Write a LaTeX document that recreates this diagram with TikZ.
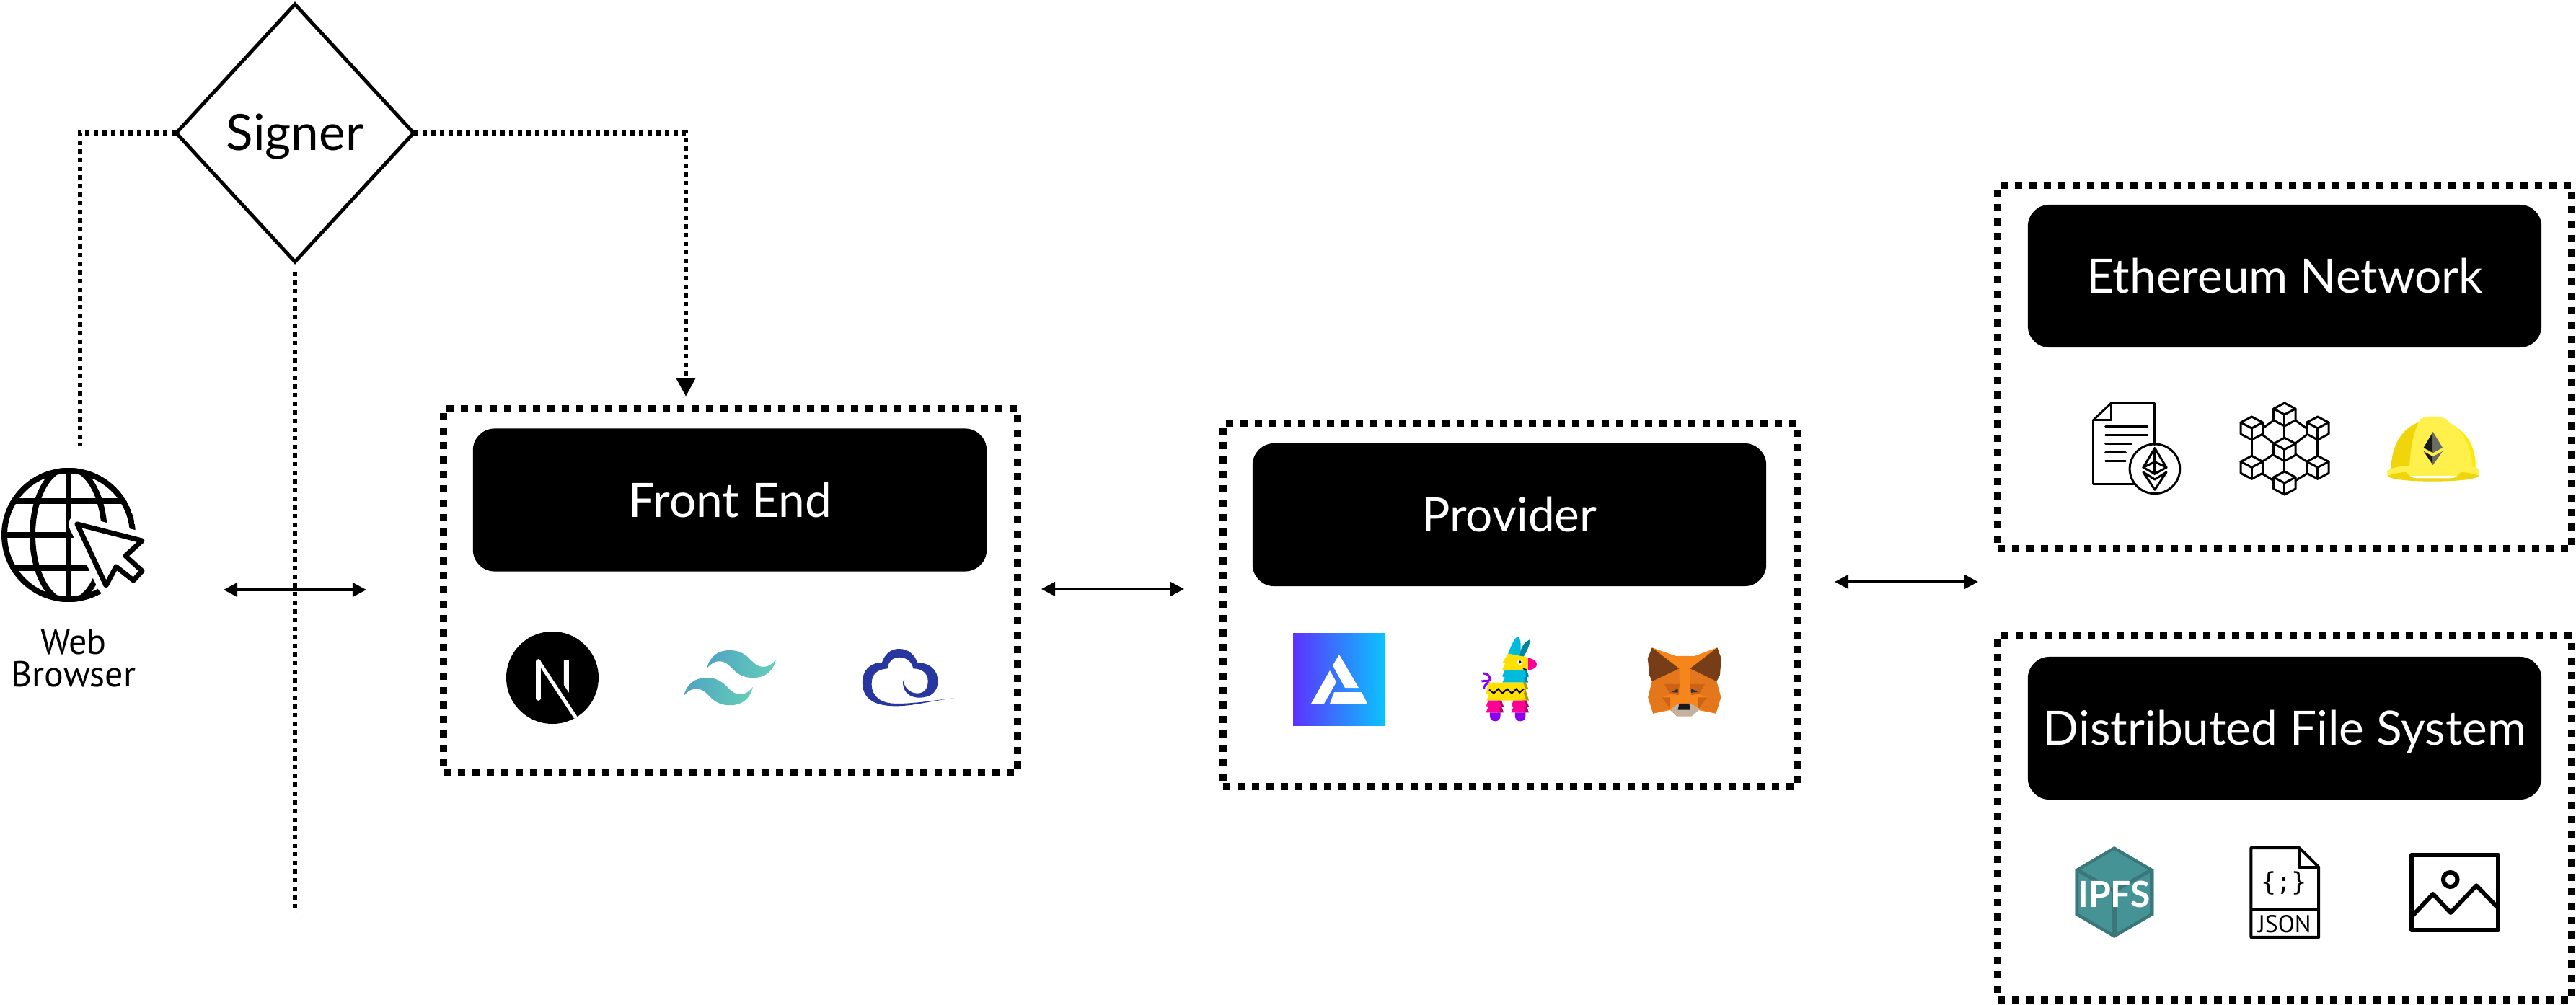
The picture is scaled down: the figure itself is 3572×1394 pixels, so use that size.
\documentclass[tikz,border=0pt]{standalone}
\usepackage{xcolor}
\usepackage{fontspec}
\setmainfont{Lato}
\newfontfamily\browserfont{PT Sans}
\newfontfamily\monofont{DejaVu Sans Mono}
\definecolor{windleft}{RGB}{79,163,194}
\definecolor{windright}{RGB}{101,207,185}
\definecolor{cloudblue}{RGB}{40,54,160}
\definecolor{alchemyleft}{RGB}{92,50,255}
\definecolor{alchemyright}{RGB}{10,196,255}
\definecolor{llamacyan}{RGB}{0,188,220}
\definecolor{llamateal}{RGB}{0,134,160}
\definecolor{llamayellow}{RGB}{255,224,0}
\definecolor{llamapink}{RGB}{255,0,150}
\definecolor{llamapurple}{RGB}{140,0,240}
\definecolor{llamaolive}{RGB}{180,150,0}
\definecolor{foxorange}{RGB}{246,133,27}
\definecolor{foxmid}{RGB}{228,118,27}
\definecolor{foxdark}{RGB}{205,97,22}
\definecolor{foxbrown}{RGB}{118,61,22}
\definecolor{foxbeige}{RGB}{196,178,160}
\definecolor{foxeye}{RGB}{35,52,71}
\definecolor{hatlight}{RGB}{255,240,75}
\definecolor{hatshade}{RGB}{240,213,12}
\definecolor{hatedge}{RGB}{255,233,0}
\definecolor{ethgrey}{RGB}{107,107,107}
\definecolor{ipfsteal}{RGB}{70,147,150}
\definecolor{ipfsdark}{RGB}{58,118,122}
\usepackage{tikz}
\usetikzlibrary{shapes.geometric,arrows.meta}
\tikzset{
  dottedbox/.style={draw, line width=0.1cm, dash pattern=on 0.1cm off 0.1cm, minimum width=7.95cm, minimum height=5.05cm, outer sep=0},
  labelbox/.style={fill=black, text=white, rounded corners=0.3cm, minimum width=7.12cm, minimum height=1.98cm, inner sep=0, outer sep=0, font=\fontsize{18.7}{22}\selectfont, text height=0.47cm, text depth=0cm},
  dotline/.style={line width=0.06cm, dash pattern=on 0.06cm off 0.06cm},
  bothway/.style={line width=0.04cm, {Triangle[length=0.19cm,width=0.19cm]}-{Triangle[length=0.19cm,width=0.19cm]}},
  iconline/.style={line width=0.03cm, line join=round, line cap=round}
}
\begin{document}
\begin{tikzpicture}[x=0.01cm, y=-0.01cm]
  \useasboundingbox (0,0) rectangle (3572,1394);

  \node[draw, shape=diamond, line width=0.05cm, minimum width=3.29cm, minimum height=3.57cm, inner sep=0, outer sep=0, font=\fontsize{19.7}{22}\selectfont, text height=0.47cm, text depth=0cm] (signer) at (409,184.5) {Signer};

  \foreach \name/\cx/\cy/\h in {frontbox/1013/819/5.04, providerbox/2094/839/5.04, ethbox/3168/509/5.04, filesbox/3168/1134.5/5.05}
    \node[dottedbox, minimum height=\h cm] (\name) at (\cx,\cy) {};

  \foreach \name/\cx/\cy/\txt in {frontlabel/1012/693.5/Front End, providerlabel/2093/714/Provider, ethlabel/3168/383/Ethereum Network, fileslabel/3168/1010/Distributed File System}
    \node[labelbox] (\name) at (\cx,\cy) {\txt};

  \node[font=\browserfont\fontsize{14.2}{12.8}\selectfont, align=center, inner sep=0] (browserlabel) at (102,913) {Web\\Browser};
  \coordinate (browsertop) at (111,618);
  \coordinate (frontin) at (951,565);
  \coordinate (signerend) at (409,1266);
  \coordinate (browserright) at (310,818);
  \coordinate (frontleft) at (508,818);
  \coordinate (frontright) at (1444,817);
  \coordinate (providerleft) at (1642,817);
  \coordinate (providerright) at (2544,807);
  \coordinate (storeleft) at (2743,807);

  \draw[dotline] (signer.west) -| (browsertop);
  \draw[dotline, -{Triangle[length=0.25cm,width=0.25cm]}, shorten >=0.15cm] (signer.east) -| (frontin);
  \draw[dotline, shorten <=0.14cm] (signer.south) -- (signerend);
  \draw[bothway] (browserright) -- (frontleft);
  \draw[bothway] (frontright) -- (providerleft);
  \draw[bothway] (providerright) -- (storeleft);

  % browser
  \begin{scope}
    \clip (95,742) circle (93);
    \draw[line width=0.08cm] (95,742) circle (89);
    \draw[line width=0.08cm] (95,742) ellipse (50 and 93);
    \draw[line width=0.08cm] (95,650) -- (95,835);
    \foreach \py in {695,742,788}
      \draw[line width=0.08cm] (0,\py) -- (190,\py);
  \end{scope}
  \foreach \col/\wd in {white/0.24, black/0.07}
    \draw[\col, line width=\wd cm, line join=round, fill=white] (107,727) -- (197,750) -- (174,771) -- (197,792) -- (185,805) -- (161,786) -- (147,812) -- cycle;

  % next
  \fill (766,940) circle (64);
  \begin{scope}[shift={(640,820)}, xscale=0.51, yscale=0.3333]
    \draw[white, line width=0.07cm, line cap=round] (208,293) -- (208,445);
    \draw[white, line width=0.05cm] (210,293) -- (310,525);
    \fill[white] (278,288) -- (292,288) -- (292,422) -- (278,390) -- cycle;
  \end{scope}

  % wind
  \begin{scope}[shift={(935.2,863.9)}, xscale=6.4, yscale=6.35]
    \foreach \sx/\sy in {0/0, -5/6}
      \shade[shift={(\sx,\sy)}, left color=windleft, right color=windright] (12,6) .. controls (9.33,6) and (7.67,7.33) .. (7,10) .. controls (8,8.67) and (9.17,8.17) .. (10.5,8.5) .. controls (11.26,8.69) and (11.81,9.24) .. (12.41,9.85) .. controls (13.39,10.85) and (14.53,12) .. (17,12) .. controls (19.67,12) and (21.33,10.67) .. (22,8) .. controls (21,9.33) and (19.83,9.83) .. (18.5,9.5) .. controls (17.74,9.31) and (17.19,8.76) .. (16.59,8.15) .. controls (15.61,7.15) and (14.47,6) .. (12,6) -- cycle;
  \end{scope}

  % cloud
  \begin{scope}[shift={(640,820)}, xscale=0.51, yscale=0.3333]
    \fill[cloudblue] (1340,445) .. controls (1270,458) and (1230,478) .. (1180,478) .. controls (1115,478) and (1090,440) .. (1090,380) .. controls (1090,330) and (1110,298) .. (1143,297) .. controls (1150,265) and (1165,240) .. (1190,240) .. controls (1215,240) and (1232,265) .. (1240,298) .. controls (1275,298) and (1295,330) .. (1295,375) .. controls (1295,420) and (1275,443) .. (1245,443) .. controls (1215,443) and (1198,415) .. (1200,370) .. controls (1205,405) and (1220,425) .. (1240,425) .. controls (1258,425) and (1268,405) .. (1268,375) .. controls (1268,345) and (1255,322) .. (1228,322) .. controls (1225,295) and (1210,275) .. (1190,275) .. controls (1172,275) and (1160,295) .. (1158,322) .. controls (1130,325) and (1115,345) .. (1115,385) .. controls (1115,440) and (1140,468) .. (1185,468) .. controls (1230,468) and (1280,455) .. (1340,445) -- cycle;
  \end{scope}

  % alchemy
  \shade[shading angle=135, left color=alchemyleft, right color=alchemyright] (1793,878) rectangle (1921,1006);
  \fill[white, line join=round] (1857,908) -- (1848,923) -- (1865,954) -- (1884,954) -- cycle;
  \fill[white, line join=round] (1844,930) -- (1853,946) -- (1836,976) -- (1818,976) -- cycle;
  \fill[white, line join=round] (1850,960) -- (1888,960) -- (1896,976) -- (1844,976) -- cycle;

  \begin{scope}[shift={(1740,840)}, xscale=0.459, yscale=0.3333]
    % llama
    \draw[llamapurple, line width=0.03cm] (692,348) .. controls (690,335) and (700,325) .. (708,318);
    \draw[llamapurple, line width=0.03cm] (685,315) .. controls (700,310) and (712,318) .. (710,305) .. controls (710,290) and (700,282) .. (690,282);
    \fill[llamateal] (798,210) .. controls (805,170) and (815,150) .. (830,142) .. controls (832,165) and (820,195) .. (812,212) -- cycle;
    \fill[llamacyan] (765,200) .. controls (775,165) and (785,130) .. (795,130) .. controls (805,135) and (805,180) .. (800,210) -- cycle;
    \fill[llamapink] (825,217) .. controls (845,222) and (852,235) .. (852,245) .. controls (852,258) and (840,268) .. (825,268) -- cycle;
    \fill[llamayellow] (765,200) -- (825,215) -- (825,270) -- (747,268) -- (756,240) -- (749,236) -- cycle;
    \fill[white] (801,235) ellipse (8 and 11);
    \fill (801,235) ellipse (4 and 6);
    \draw[line width=0.015cm] (810,262) -- (822,268);
    \fill[llamateal] (810,270) -- (822,270) -- (828,295) -- (820,300) -- (826,320) -- (810,320) -- cycle;
    \fill[llamacyan] (755,270) -- (816,270) -- (820,295) -- (812,300) -- (818,320) -- (748,320) -- (755,298) -- (747,295) -- cycle;
    \fill[llamaolive] (810,320) -- (818,320) -- (826,345) -- (818,350) -- (828,395) -- (805,395) -- cycle;
    \fill[llamayellow] (705,320) -- (810,320) -- (818,345) -- (812,365) -- (820,395) -- (700,395) -- (707,370) -- (699,365) -- cycle;
    \draw[line width=0.02cm] (708,350) -- (722,365) -- (735,347) -- (748,365) -- (762,347) -- (776,365) -- (790,347) -- (800,362) -- (812,347);
    \foreach \sx in {0,76} {
      \fill[llamapurple] (\sx+710,445) -- (\sx+742,445) -- (\sx+742,458) .. controls (\sx+742,472) and (\sx+736,481) .. (\sx+726,481) .. controls (\sx+716,481) and (\sx+710,472) .. (\sx+710,458) -- cycle;
      \fill[llamapink!70!black] (\sx+735,395) -- (\sx+745,395) -- (\sx+752,420) -- (\sx+745,420) -- (\sx+752,445) -- (\sx+735,445) -- cycle;
      \fill[llamapink] (\sx+705,395) -- (\sx+738,395) -- (\sx+744,420) -- (\sx+736,420) -- (\sx+742,445) -- (\sx+698,445) -- (\sx+706,420) -- (\sx+699,418) -- cycle;
    }
    % fox
    \fill[foxorange] (1200,175) -- (1272,210) -- (1328,210) -- (1397,175) -- (1409,220) -- (1395,315) -- (1408,382) -- (1393,449) -- (1340,435) -- (1320,460) -- (1275,460) -- (1255,435) -- (1203,449) -- (1188,382) -- (1200,315) -- (1187,220) -- cycle;
    \fill[foxmid] (1200,315) -- (1282,262) -- (1283,327) -- (1237,327) -- (1255,368) -- (1230,382) -- (1188,382) -- cycle;
    \fill[foxmid] (1395,315) -- (1315,262) -- (1315,327) -- (1360,327) -- (1342,368) -- (1366,382) -- (1408,382) -- cycle;
    \fill[foxmid] (1188,382) -- (1230,382) -- (1255,430) -- (1203,449) -- cycle;
    \fill[foxmid] (1408,382) -- (1366,382) -- (1340,430) -- (1393,449) -- cycle;
    \fill[foxdark] (1230,382) -- (1255,382) -- (1255,430) -- cycle;
    \fill[foxdark] (1366,382) -- (1340,382) -- (1340,430) -- cycle;
    \fill[foxdark] (1237,327) -- (1283,327) -- (1280,372) -- (1255,368) -- cycle;
    \fill[foxdark] (1360,327) -- (1315,327) -- (1318,372) -- (1342,368) -- cycle;
    \fill[foxbrown] (1200,175) -- (1282,262) -- (1200,315) -- (1192,290) -- (1187,220) -- cycle;
    \fill[foxbrown] (1397,175) -- (1315,262) -- (1395,315) -- (1405,290) -- (1409,220) -- cycle;
    \fill[foxeye] (1258,360) -- (1278,345) -- (1278,362) -- cycle;
    \fill[foxeye] (1338,360) -- (1318,345) -- (1318,362) -- cycle;
    \fill[foxbeige] (1255,430) -- (1280,408) -- (1318,408) -- (1345,430) -- (1320,460) -- (1275,460) -- cycle;
    \fill[black!90] (1282,408) -- (1312,408) -- (1316,434) -- (1278,434) -- cycle;
  \end{scope}

  \begin{scope}[shift={(2800,520)}, xscale=0.4464, yscale=0.3333]
    % contract
    \draw[iconline] (230,188) -- (285,118) -- (420,118) -- (420,290);
    \draw[iconline] (230,188) -- (230,455) -- (360,455);
    \draw[iconline] (230,188) -- (285,188) -- (285,118);
    \foreach \py/\ex in {215/398, 251/398, 288/348, 323/330, 360/330}
      \draw[iconline] (268,\py) -- (\ex,\py);
    \draw[iconline] (421,391) ellipse (78 and 103);
    \draw[iconline] (421,305) -- (385,385) -- (421,412) -- (457,385) -- cycle;
    \draw[iconline] (421,305) -- (421,412);
    \draw[iconline] (385,385) -- (421,362) -- (457,385);
    \draw[iconline] (385,405) -- (421,478) -- (457,405) -- (421,435) -- cycle;
    % network
    \foreach \cx/\cy in {824/165, 722/222, 927/222, 824/310, 722/385, 927/385, 824/450} {
      \draw[iconline] (\cx,\cy-48) -- (\cx+34,\cy-24) -- (\cx,\cy) -- (\cx-34,\cy-24) -- cycle;
      \draw[iconline] (\cx-34,\cy-24) -- (\cx-34,\cy+24) -- (\cx,\cy+48) -- (\cx+34,\cy+24) -- (\cx+34,\cy-24);
      \draw[iconline] (\cx,\cy) -- (\cx,\cy+48);
    }
    \foreach \ax/\ay/\bx/\by in {756/222/790/190, 858/190/892/222, 756/250/790/285, 858/285/892/250, 722/270/722/337, 927/270/927/337, 824/213/824/262, 756/360/790/330, 858/330/892/360, 824/358/824/402, 756/412/790/440, 858/440/892/412}
      \draw[iconline] (\ax,\ay) -- (\bx,\by);
    % helmet
    \fill[hatedge] (1332,198) .. controls (1395,235) and (1420,310) .. (1417,390) -- (1300,390) -- cycle;
    \fill[hatshade] (1155,395) .. controls (1155,290) and (1190,220) .. (1245,195) -- (1340,390) -- cycle;
    \fill[hatlight] (1212,385) .. controls (1215,300) and (1225,240) .. (1243,190) .. controls (1243,178) and (1270,173) .. (1285,173) .. controls (1305,173) and (1330,178) .. (1332,195) .. controls (1385,235) and (1408,310) .. (1408,390) -- cycle;
    \fill[hatlight] (1143,400) .. controls (1155,385) and (1190,380) .. (1212,377) -- (1408,382) .. controls (1420,385) and (1428,390) .. (1428,400) -- (1428,420) -- (1143,420) -- cycle;
    \fill[hatshade] (1145,420) .. controls (1160,412) and (1185,405) .. (1200,405) .. controls (1210,415) and (1215,430) .. (1235,430) -- (1340,430) .. controls (1360,430) and (1362,415) .. (1372,405) .. controls (1390,405) and (1415,412) .. (1428,420) .. controls (1420,435) and (1360,443) .. (1285,443) .. controls (1210,443) and (1150,435) .. (1145,420) -- cycle;
    \fill[black!90] (1285,237) -- (1256,303) -- (1285,325) -- cycle;
    \fill[ethgrey] (1285,237) -- (1315,303) -- (1285,325) -- cycle;
    \fill[black!90] (1256,318) -- (1285,340) -- (1285,375) -- cycle;
    \fill[ethgrey] (1315,318) -- (1285,340) -- (1285,375) -- cycle;
  \end{scope}

  \begin{scope}[shift={(2800,1150)}, xscale=0.4464, yscale=0.3333]
    % ipfs
    \fill[ipfsteal] (295,72) -- (418,168) -- (418,358) -- (295,453) -- (173,358) -- (173,168) -- cycle;
    \draw[ipfsdark, line width=0.04cm] (295,80) -- (410,170) -- (410,355) -- (295,445) -- (180,355) -- (180,170) -- cycle;
    \draw[ipfsdark, line width=0.05cm] (180,170) -- (295,258) -- (410,170);
    \draw[ipfsdark, line width=0.07cm] (295,258) -- (295,445);
    \node[text=white, font=\bfseries\fontsize{14.2}{16}\selectfont, inner sep=0] (ipfslabel) at (295,270) {IPFS};
    % json
    \draw[line width=0.04cm, line join=round] (720,78) -- (870,78) -- (930,158) -- (930,450) -- (720,450) -- cycle;
    \draw[line width=0.04cm, line join=round] (870,78) -- (870,158) -- (930,158);
    \draw[line width=0.04cm] (720,335) -- (930,335);
    \node[font=\monofont\fontsize{10}{10}\selectfont, inner sep=0] (jsonbrace) at (822,225) {\{;\}};
    \node[font=\browserfont\fontsize{9.6}{10}\selectfont, inner sep=0] (jsonlabel) at (824,396) {JSON};
    % image
    \draw[line width=0.06cm, line join=round] (1218,108) rectangle (1488,420);
    \draw[line width=0.06cm, line join=round] (1222,360) -- (1285,270) -- (1340,348) -- (1420,235) -- (1485,325);
    \draw[line width=0.06cm] (1339,210) ellipse (22 and 30);
  \end{scope}
\end{tikzpicture}
\end{document}
